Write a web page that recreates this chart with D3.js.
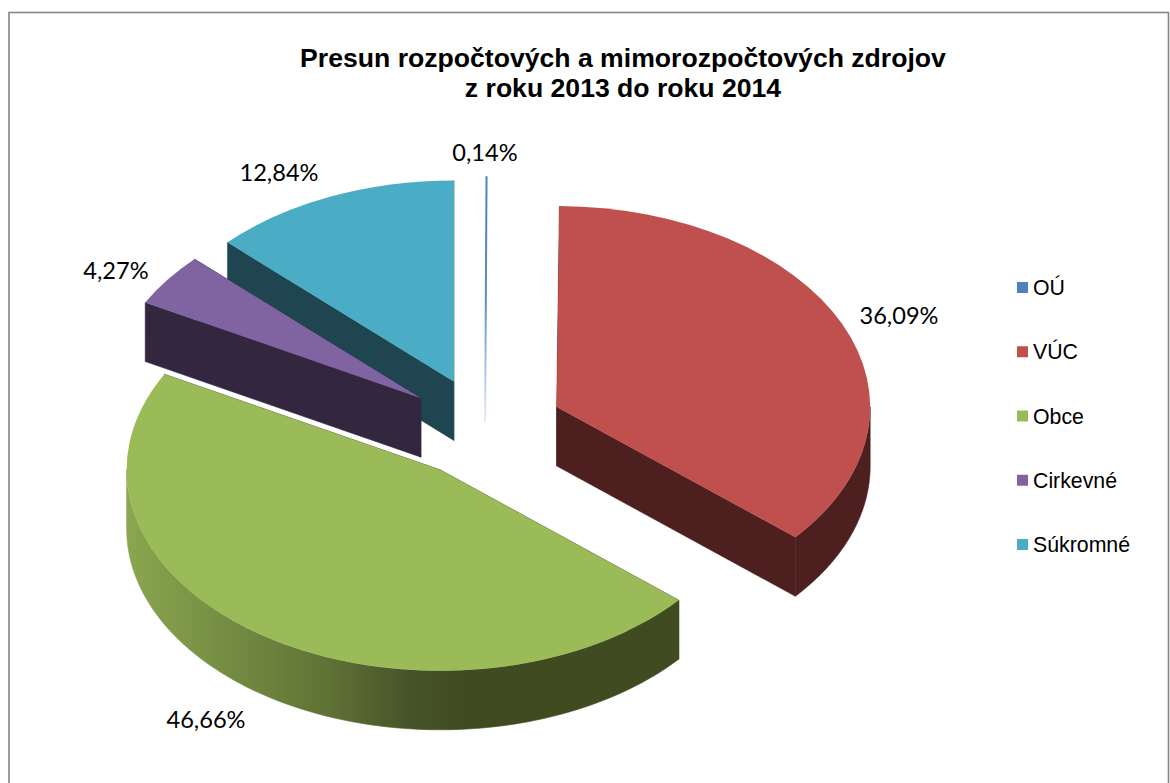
<!DOCTYPE html>
<html>
<head>
<meta charset="utf-8">
<script src="https://cdn.jsdelivr.net/npm/d3@7/dist/d3.min.js"></script>
<style>html,body{margin:0;padding:0;background:#fff;overflow:hidden}svg{display:block}</style>
</head>
<body>
<div id="chart"></div>
<script>
// ---- data ----
const categories = ["OÚ", "VÚC", "Obce", "Cirkevné", "Súkromné"];
const shares = [0.14, 36.09, 46.66, 4.27, 12.84];
const titleLines = ["Presun rozpočtových a mimorozpočtových zdrojov", "z roku 2013 do roku 2014"];

// ---- style ----
const topColors  = ["#4f81bd", "#c0504d", "#9bbb59", "#8064a2", "#4bacc6"];
const sideColors = ["#c9d8ea", "#4d1f1f", "#404b20", "#33273f", "#1f4650"];

// ---- layout ----
const W = 1170, H = 783;
const cx = 484.8, cy = 428, rx = 313.5, ry = 201, depth = 59, explode = 79;
const k = ry / rx;
const labelAnchors = [[485, 161], [899, 324], [206, 728], [116, 279], [279, 181]];
const drawOrder = [4, 0, 3, 1, 2];

const svg = d3.select("#chart").append("svg").attr("width", W).attr("height", H);
const defs = svg.append("defs");

// frame
svg.append("rect").attr("x", 9).attr("y", 12.5).attr("width", 1159.5).attr("height", 790)
  .attr("fill", "#fff").attr("stroke", "#868686").attr("stroke-width", 1.6);

// title
svg.append("text").attr("text-anchor", "middle")
  .attr("font-family", "'Liberation Sans', Arial, sans-serif")
  .attr("font-weight", "bold").attr("font-size", 26.6).attr("fill", "#000")
  .selectAll("tspan").data(titleLines).join("tspan")
  .attr("x", 623).attr("y", (d, i) => 67 + i * 30).text(d => d);

// gradients
const wallGrad = defs.append("linearGradient").attr("id", "wallGreen")
  .attr("gradientUnits", "userSpaceOnUse").attr("x1", 127).attr("x2", 800).attr("y1", 0).attr("y2", 0);
[[0, "#8aa64f"], [0.15, "#748c42"], [0.3, "#5f7235"], [0.42, "#47532a"], [0.5, "#404b20"], [1, "#3f4a20"]]
  .forEach(([o, c]) => wallGrad.append("stop").attr("offset", o).attr("stop-color", c));
const thinGrad = defs.append("linearGradient").attr("id", "thinBlue")
  .attr("gradientUnits", "userSpaceOnUse").attr("x1", 0).attr("x2", 0).attr("y1", 176).attr("y2", 423);
[[0, "#4f81bd"], [0.5, "#5f8cc3"], [0.75, "#a5bedd"], [1, "#e8eef6"]]
  .forEach(([o, c]) => thinGrad.append("stop").attr("offset", o).attr("stop-color", c));

// slices
const pie = d3.pie().sort(null).startAngle(0).endAngle(2 * Math.PI).value(d => d);
const arcs = pie(shares);
const arcGen = d3.arc().innerRadius(0).outerRadius(rx);
const line = d3.line();
const HALF = Math.PI / 2;

function centre(a) {
  const m = (a.startAngle + a.endAngle) / 2;
  return [cx + explode * Math.sin(m), cy - explode * Math.cos(m) * k];
}
function rim(c, t, dz) {
  return [c[0] + rx * Math.sin(t), c[1] - ry * Math.cos(t) + dz];
}

drawOrder.forEach(i => {
  const a = arcs[i], c = centre(a);
  const g = svg.append("g");
  const s0 = a.startAngle, s1 = a.endAngle;

  if (i === 0) {
    // the sliver: fades out along its height
    g.append("path").attr("d", line([rim(c, (s0 + s1) / 2, 0), [c[0], c[1] + depth - 14]]))
      .attr("stroke", "url(#thinBlue)").attr("stroke-width", 2).attr("fill", "none");
    return;
  }

  // cut faces along each straight edge
  [s0, s1].forEach(t => {
    const p = rim(c, t, 0), q = rim(c, t, depth);
    g.append("path").attr("d", line([c, p, q, [c[0], c[1] + depth]]) + "Z")
      .attr("fill", sideColors[i]).attr("stroke", sideColors[i]).attr("stroke-width", 0.5);
  });

  // outer wall, only the part facing the viewer
  const w0 = Math.max(s0, HALF), w1 = Math.min(s1, 3 * HALF);
  if (w1 > w0) {
    const ts = d3.range(0, 101).map(d3.scaleLinear().domain([0, 100]).range([w0, w1]));
    const pts = ts.map(t => rim(c, t, 0)).concat(ts.slice().reverse().map(t => rim(c, t, depth)));
    const wallFill = i === 2 ? "url(#wallGreen)" : sideColors[i];
    g.append("path").attr("d", line(pts) + "Z")
      .attr("fill", wallFill).attr("stroke", wallFill).attr("stroke-width", 0.6);
  }

  // top face
  g.append("path").attr("d", arcGen(a))
    .attr("transform", `translate(${c[0]},${c[1]}) scale(1,${k})`)
    .attr("fill", topColors[i]);
});

// value labels
svg.append("g").attr("font-family", "Lato, Carlito, sans-serif").attr("font-size", 23.6).attr("fill", "#000")
  .attr("text-anchor", "middle")
  .selectAll("text").data(shares).join("text")
  .attr("x", (d, i) => labelAnchors[i][0]).attr("y", (d, i) => labelAnchors[i][1])
  .text(d => d.toFixed(2).replace(".", ",") + "%");

// legend
const legendY = d3.scalePoint().domain(categories).range([287.5, 544.5]);
const legend = svg.append("g").selectAll("g").data(categories).join("g")
  .attr("transform", d => `translate(1017,${legendY(d)})`);
legend.append("rect").attr("x", 0).attr("y", -5.5).attr("width", 11).attr("height", 11)
  .attr("fill", (d, i) => topColors[i]);
legend.append("text").attr("x", 16).attr("y", 7.5)
  .attr("font-family", "'Liberation Sans', Arial, sans-serif").attr("font-size", 21.3).attr("fill", "#000")
  .text(d => d);
</script>
</body>
</html>
